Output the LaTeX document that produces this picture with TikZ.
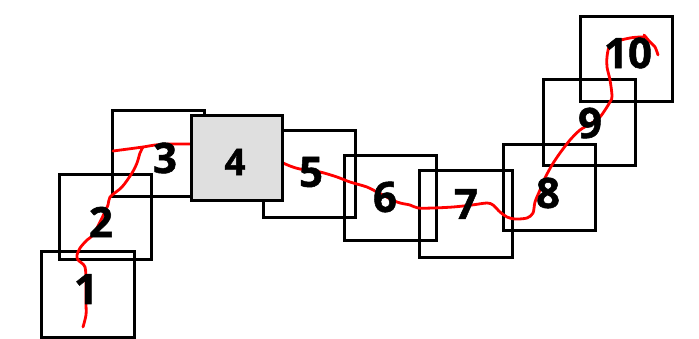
\documentclass[tikz,border=0pt]{standalone}
\usepackage{fontspec}
\setmainfont{Open Sans}[BoldFeatures={FakeBold=1.2}]
\begin{document}
\begin{tikzpicture}[x=1pt,y=-1pt,
  box/.style={draw=black,line width=2.9pt,inner sep=0pt,anchor=north west},
  hi/.style={box,fill=gray!25},
  lab/.style={font=\bfseries\fontsize{42}{44}\selectfont,inner sep=0pt},
  labs/.style={font=\bfseries\fontsize{37}{39}\selectfont,inner sep=0pt},
  track/.style={draw=red,line width=2.8pt,line cap=round,line join=round}]
\useasboundingbox (0,0) rectangle (699,338);
% plain boxes
\node[box,minimum width=93pt,minimum height=86pt] (b1) at (40,250) {};
\node[box,minimum width=92pt,minimum height=85pt] (b2) at (58,173) {};
\node[box,minimum width=92pt,minimum height=86pt] (b3) at (111,109) {};
\node[box,minimum width=92pt,minimum height=87pt] (b5) at (262,129) {};
\node[box,minimum width=92pt,minimum height=85pt] (b6) at (343,154) {};
\node[box,minimum width=93pt,minimum height=87pt] (b7) at (418,169) {};
\node[box,minimum width=92pt,minimum height=86pt] (b8) at (502,143) {};
\node[box,minimum width=92pt,minimum height=86pt] (b9) at (542,78) {};
\node[box,minimum width=92pt,minimum height=85pt] (b10) at (579,15) {};
% red track
\draw[track] plot[smooth,tension=0.5] coordinates {
  (83,327) (86,315) (86,303) (86,285) (85,267) (78,260) (77,255) (80,248)
  (87,240) (93,235) (100,222) (108,205) (110,197) (122,187) (132,173)
  (137,163) (140,153) (143,147)};
\draw[track] plot[smooth,tension=0.5] coordinates {
  (113,151) (143,147) (155,145) (172,144) (192,144)};
\draw[track] plot[smooth,tension=0.5] coordinates {
  (281,162) (290,166) (300,169) (320,172) (337,177) (350,182) (367,187)
  (377,192) (397,202) (410,205) (418,208) (433,208) (453,207) (472,205)
  (487,203) (493,205) (500,212) (507,217) (515,219) (527,218) (533,213)
  (535,202) (540,190) (545,178) (552,165) (560,153) (570,140) (580,130)
  (590,124) (600,117) (610,102) (612,96) (610,80) (607,67) (607,57)
  (609,47) (614,42) (630,38) (640,37) (646,37)};
\draw[track] plot[smooth,tension=0.5] coordinates {
  (644,35) (650,42) (655,47) (658,55)};
% highlighted box on top
\node[hi,minimum width=91pt,minimum height=85pt] (b4) at (190,114) {};
% labels
\node[lab] (l1) at (86,289) {1};
\node[lab] (l2) at (101,222) {2};
\node[lab] (l3) at (165,158) {3};
\node[labs] (l4) at (235,162) {4};
\node[lab] (l5) at (311,172) {5};
\node[lab] (l6) at (385,197) {6};
\node[lab] (l7) at (466,204) {7};
\node[lab] (l8) at (548,193) {8};
\node[lab] (l9) at (590,123) {9};
\node[lab] (l10) at (628,53) {10};
\end{tikzpicture}
\end{document}
